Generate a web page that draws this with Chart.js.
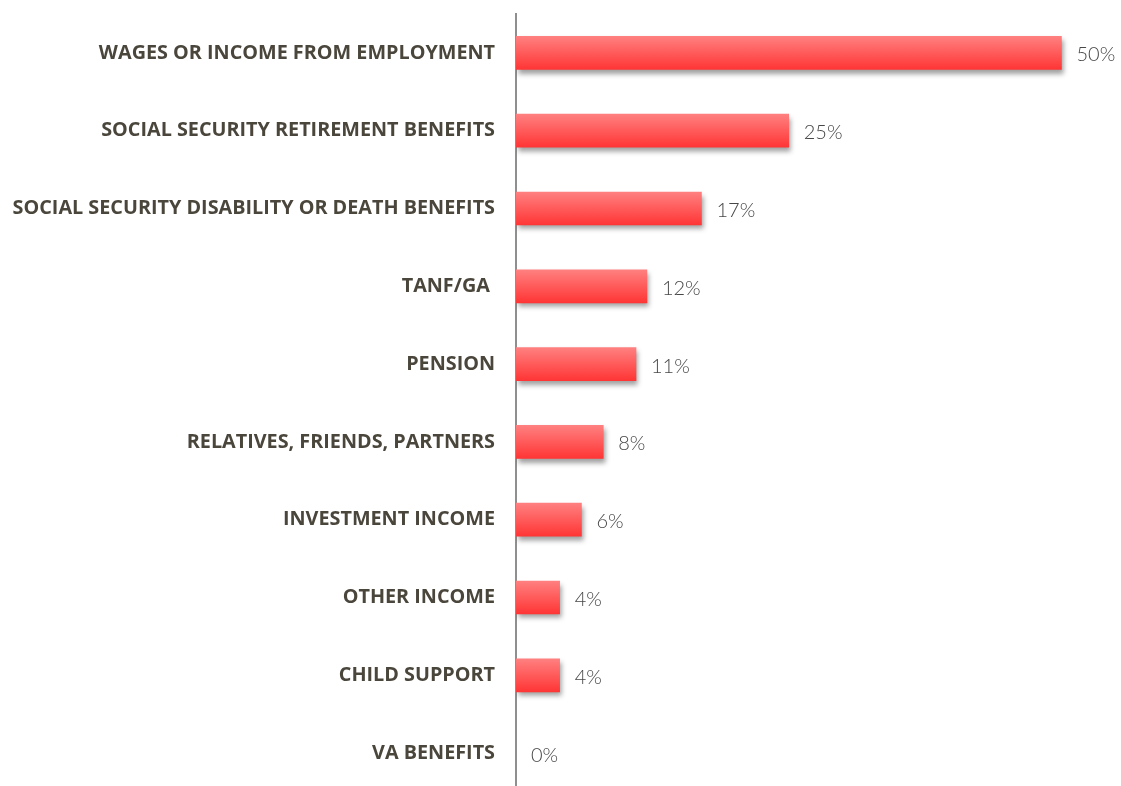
<!DOCTYPE html>
<html><head><meta charset="utf-8">
<script src="https://cdn.jsdelivr.net/npm/chart.js@4.4.1/dist/chart.umd.min.js"></script>
<style>
html,body{margin:0;padding:0;background:#fff;overflow:hidden;}
#wrap{position:relative;width:1121px;height:794px;}
</style></head>
<body>
<div id="wrap"><canvas id="c" width="1121" height="794"></canvas></div>
<script>
const categories = [
  "WAGES OR INCOME FROM EMPLOYMENT",
  "SOCIAL SECURITY RETIREMENT BENEFITS",
  "SOCIAL SECURITY DISABILITY OR DEATH BENEFITS",
  "TANF/GA ",
  "PENSION",
  "RELATIVES, FRIENDS, PARTNERS",
  "INVESTMENT INCOME",
  "OTHER INCOME",
  "CHILD SUPPORT",
  "VA BENEFITS"
];
const values = [50, 25, 17, 12, 11, 8, 6, 4, 4, 0];
const valueLabels = ["50%", "25%", "17%", "12%", "11%", "8%", "6%", "4%", "4%", "0%"];

const BAR_H = 33;

const shadowPlugin = {
  id: 'barShadow',
  beforeDatasetDraw(chart) {
    const ctx = chart.ctx;
    ctx.save();
    ctx.shadowColor = 'rgba(0,0,0,0.38)';
    ctx.shadowBlur = 5;
    ctx.shadowOffsetX = 2;
    ctx.shadowOffsetY = 4;
  },
  afterDatasetDraw(chart) {
    chart.ctx.restore();
  }
};

const valueLabelPlugin = {
  id: 'valueLabels',
  afterDatasetsDraw(chart) {
    const ctx = chart.ctx;
    const meta = chart.getDatasetMeta(0);
    ctx.save();
    ctx.font = '300 20px Lato';
    ctx.fillStyle = '#474747';
    ctx.textBaseline = 'middle';
    ctx.textAlign = 'left';
    meta.data.forEach((el, i) => {
      ctx.fillText(valueLabels[i], el.x + 15, el.y + 2);
    });
    ctx.restore();
  }
};

new Chart(document.getElementById('c'), {
  type: 'bar',
  data: {
    labels: categories,
    datasets: [{
      data: values,
      barThickness: BAR_H,
      borderWidth: 0,
      backgroundColor: (c) => {
        const chart = c.chart;
        if (values[c.dataIndex] === 0) return 'rgba(0,0,0,0)';
        const ys = chart.scales.y;
        if (!ys || !chart.chartArea) return '#ff5555';
        const yc = ys.getPixelForValue(c.dataIndex);
        const g = chart.ctx.createLinearGradient(0, yc - BAR_H / 2, 0, yc + BAR_H / 2);
        g.addColorStop(0, '#ff8080');
        g.addColorStop(1, '#ff3535');
        return g;
      }
    }]
  },
  options: {
    indexAxis: 'y',
    responsive: false,
    animation: false,
    layout: { padding: { top: 14, bottom: 2, left: 0, right: 5 } },
    plugins: { legend: { display: false }, tooltip: { enabled: false } },
    scales: {
      x: { display: false, min: 0, max: 55 },
      y: {
        afterFit(scale) { scale.width = 516; scale.paddingTop = 0; scale.paddingBottom = 0; },
        grid: { display: false, drawTicks: false },
        border: { display: true, color: '#8f8f8f', width: 2 },
        ticks: {
          padding: 21,
          color: '#4a463c',
          font: { family: 'Open Sans', weight: 'bold', size: 19.8, lineHeight: 1.1 }
        }
      }
    }
  },
  plugins: [shadowPlugin, valueLabelPlugin]
});
</script>
</body></html>
